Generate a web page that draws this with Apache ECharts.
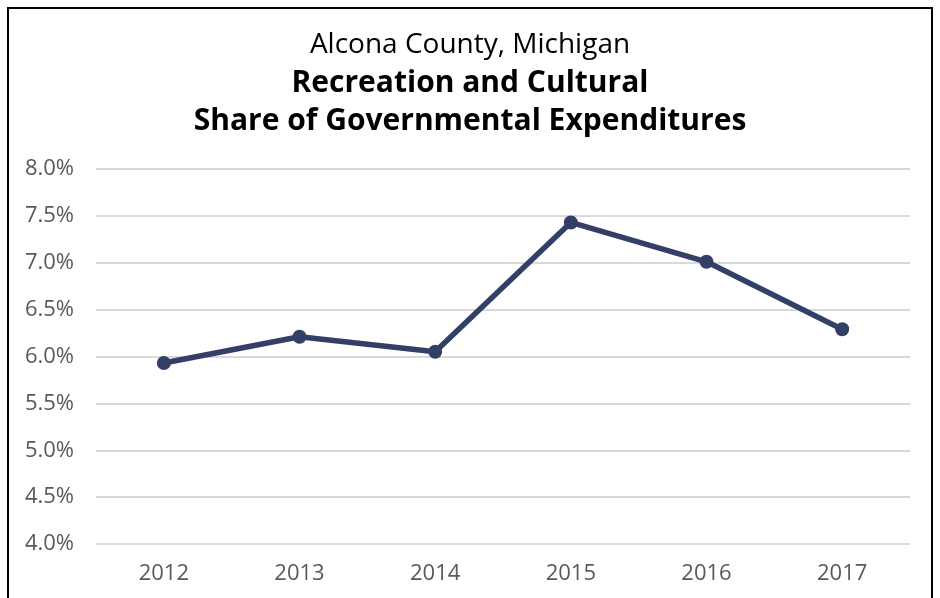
<!DOCTYPE html>
<html>
<head>
<meta charset="utf-8">
<script src="https://cdn.jsdelivr.net/npm/echarts@6/dist/echarts.min.js"></script>
<style>
  html, body { margin: 0; padding: 0; background: #fff; }
  #main { width: 940px; height: 598px; }
</style>
</head>
<body>
<div id="main"></div>
<script>
// data
var years = ['2012', '2013', '2014', '2015', '2016', '2017'];
var shares = [5.93, 6.21, 6.05, 7.43, 7.01, 6.29];
var titleLines = ['Alcona County, Michigan', 'Recreation and Cultural', 'Share of Governmental Expenditures'];

var myChart = echarts.init(document.getElementById('main'));
var fontName = 'Open Sans';

myChart.setOption({
    animation: false,
    graphic: [{
        type: 'rect',
        shape: { x: 8, y: 8, width: 924, height: 620 },
        style: { fill: 'none', stroke: '#000', lineWidth: 2 }
    }],
    title: [{
        text: titleLines[0],
        left: 'center', top: 26,
        textStyle: { fontFamily: fontName, fontSize: 28, fontWeight: 'normal', color: '#000' }
    }, {
        text: titleLines[1] + '\n' + titleLines[2],
        left: 'center', top: 59,
        textStyle: { fontFamily: fontName, fontSize: 30, fontWeight: 'bold', color: '#000', lineHeight: 38 }
    }],
    grid: { left: 96, right: 30, top: 169, bottom: 54 },
    xAxis: {
        type: 'category',
        data: years,
        boundaryGap: true,
        axisLine: { show: false },
        axisTick: { show: false },
        axisLabel: { fontFamily: fontName, fontSize: 22, color: '#595959', margin: 19 }
    },
    yAxis: {
        type: 'value',
        min: 4, max: 8, interval: 0.5,
        axisLine: { show: false },
        axisTick: { show: false },
        splitLine: { lineStyle: { color: '#d9d9d9', width: 2 } },
        axisLabel: {
            fontFamily: fontName, fontSize: 22, color: '#595959', margin: 22,
            formatter: function (v) { return v.toFixed(1) + '%'; }
        }
    },
    series: [{
        type: 'line',
        data: shares,
        symbol: 'circle',
        symbolSize: 14,
        lineStyle: { color: '#333f67', width: 5.5 },
        itemStyle: { color: '#333f67' }
    }]
});
</script>
</body>
</html>
